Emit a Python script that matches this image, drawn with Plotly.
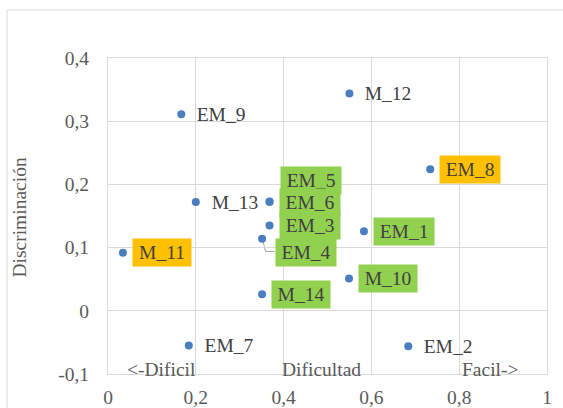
import plotly.graph_objects as go

# Item analysis: difficulty index (x) vs. discrimination index (y)
items = ["EM_9", "M_12", "EM_8", "M_13", "EM_5", "EM_6", "EM_3", "EM_4",
         "EM_1", "M_11", "M_10", "M_14", "EM_7", "EM_2"]
dificultad = [0.167, 0.550, 0.734, 0.200, 0.368, 0.368, 0.368, 0.351,
              0.583, 0.034, 0.549, 0.351, 0.184, 0.684]
discriminacion = [0.311, 0.344, 0.224, 0.172, 0.173, 0.172, 0.135, 0.114,
                  0.126, 0.092, 0.051, 0.026, -0.055, -0.056]
# label highlight: "g" = green, "o" = orange, "" = none
resaltado = ["", "", "o", "", "g", "g", "g", "g",
             "g", "o", "g", "g", "", ""]

x_ticks = [0, 0.2, 0.4, 0.6, 0.8, 1]
x_ticktext = ["0", "0,2", "0,4", "0,6", "0,8", "1"]
y_ticks = [-0.1, 0, 0.1, 0.2, 0.3, 0.4]
y_ticktext = ["-0,1", "0", "0,1", "0,2", "0,3", "0,4"]

# styling
FONT = "Liberation Serif"
FS = 19.5
TXT = "#404040"
AX_TXT = "#595959"
GRID = "#D9D9D9"
FILL = {"g": "#92D050", "o": "#FFC000", "": "rgba(0,0,0,0)"}

W, H = 563, 408
M_L, M_R, M_T, M_B = 108, 16, 58, 34
PW, PH = W - M_L - M_R, H - M_T - M_B
X_RANGE, Y_RANGE = (0, 1), (-0.1, 0.4)
px_x = (X_RANGE[1] - X_RANGE[0]) / PW   # data units per pixel
px_y = (Y_RANGE[1] - Y_RANGE[0]) / PH

# per-label nudges (pixels) for labels moved off their default spot
nudge = {"EM_5": (10, 21), "EM_4": (13, -14)}

fig = go.Figure()
fig.add_trace(go.Scatter(
    x=dificultad, y=discriminacion, mode="markers",
    marker=dict(size=8, color="#4A7EBF"),
    hoverinfo="text", text=items, showlegend=False,
))

annotations = []
for name, xv, yv, hl in zip(items, dificultad, discriminacion, resaltado):
    dx, dy = nudge.get(name, (9, 0))
    annotations.append(dict(
        x=xv, y=yv, xref="x", yref="y", text=name, showarrow=False,
        xanchor="left", yanchor="middle", xshift=dx, yshift=dy,
        width=60 if name.startswith("EM") else 58, height=27,
        align="center", valign="middle", bgcolor=FILL[hl], borderpad=0,
        font=dict(family=FONT, size=FS, color=TXT),
    ))

# leader line from the EM_4 point to its displaced label
i4 = items.index("EM_4")
x4, y4 = dificultad[i4], discriminacion[i4]
pts = [(1, -3), (3.5, -12.7), (12.6, -12.7)]
path = "M " + " L ".join(f"{x4 + a * px_x} {y4 + b * px_y}" for a, b in pts)
shapes = [dict(type="path", path=path, xref="x", yref="y",
               line=dict(color="#A6A6A6", width=1), layer="below")]

# outer chart-area border
shapes.append(dict(type="rect", xref="paper", yref="paper",
                   x0=(7 - M_L) / PW, x1=(W + 10 - M_L) / PW,
                   y0=(M_T + PH - (H + 10)) / PH, y1=(M_T + PH - 10) / PH,
                   line=dict(color=GRID, width=1), layer="below"))

# axis captions drawn along the bottom of the plot area
for txt, xp in [("&lt;-Dificil", 0.039), ("Dificultad", 0.392), ("Facil-&gt;", 0.802)]:
    annotations.append(dict(
        x=xp, y=0, xref="paper", yref="paper", text=txt, showarrow=False,
        xanchor="left", yanchor="bottom", yshift=-8,
        font=dict(family=FONT, size=FS, color=AX_TXT),
    ))

annotations.append(dict(
    x=(20 - M_L) / PW, y=0.495, xref="paper", yref="paper",
    text="Discriminación", textangle=-90, showarrow=False,
    xanchor="center", yanchor="middle",
    font=dict(family=FONT, size=FS, color=AX_TXT),
))

axis_common = dict(showgrid=True, gridcolor=GRID, gridwidth=1, zeroline=False,
                   showline=True, linecolor=GRID, linewidth=1, mirror=True,
                   ticks="", automargin=False,
                   tickfont=dict(family=FONT, size=FS, color=AX_TXT))

fig.update_layout(
    width=W, height=H,
    margin=dict(l=M_L, r=M_R, t=M_T, b=M_B, autoexpand=False),
    paper_bgcolor="white", plot_bgcolor="white",
    xaxis=dict(range=list(X_RANGE), tickvals=x_ticks, ticktext=x_ticktext,
               ticklabelstandoff=6, **axis_common),
    yaxis=dict(range=list(Y_RANGE), tickvals=y_ticks, ticktext=y_ticktext,
               ticklabelstandoff=14, **axis_common),
    annotations=annotations, shapes=shapes,
)

fig.write_html("out.html")
